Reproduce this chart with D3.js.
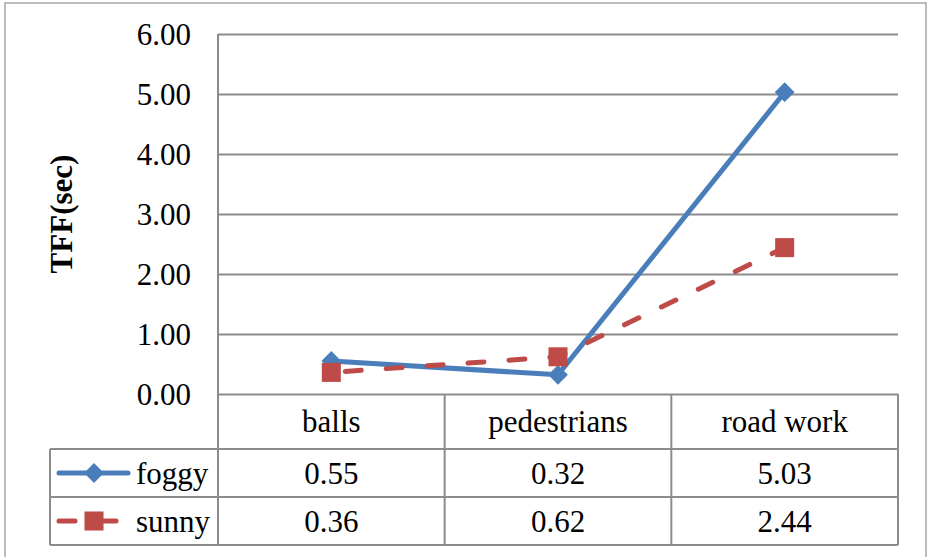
<!DOCTYPE html>
<html lang="en">
<head>
  <meta charset="UTF-8">
  <title>TFF line chart with data table</title>
  <script src="https://d3js.org/d3.v7.min.js"></script>
  <style>
    body { margin: 0; background: #fff; }
    text { font-family: "Liberation Serif", "Times New Roman", serif; fill: #000; }
    .grid line { stroke: #8c8c8c; stroke-width: 2; }
    .grid path { display: none; }
    .rule { stroke: #8c8c8c; stroke-width: 2; }
  </style>
</head>
<body>
  <div id="chart"></div>
  <script>
  // data
  var categories = ["balls", "pedestrians", "road work"];
  var seriesNames = ["foggy", "sunny"];
  var foggy = [0.55, 0.32, 5.03];
  var sunny = [0.36, 0.62, 2.44];
  var yTicks = [0, 1, 2, 3, 4, 5, 6];

  var w = 927, h = 557;
  var plotLeft = 218, plotRight = 898, plotTop = 34, plotBottom = 394;
  var rowTop = 449, rowMid = 497, rowBot = 545, legendLeft = 50;

  var blue = "#4a7ebb", red = "#be4b48";
  var fs = 31;

  var svg = d3.select("#chart").append("svg")
    .attr("width", w)
    .attr("height", h);

  // outer frame (bottom edge falls off the picture)
  svg.append("rect")
    .attr("x", 5).attr("y", 3)
    .attr("width", w - 6).attr("height", h + 20)
    .attr("fill", "none")
    .attr("stroke", "#a6a6a6")
    .attr("stroke-width", 1.5);

  var x = d3.scalePoint()
    .domain(categories)
    .range([plotLeft, plotRight])
    .padding(0.5);

  var y = d3.scaleLinear()
    .domain([0, 6])
    .range([plotBottom, plotTop]);

  var step = x.step();

  // gridlines + tick labels
  var yAxis = svg.append("g")
    .attr("class", "grid")
    .attr("transform", "translate(" + plotLeft + ",0)")
    .call(d3.axisLeft(y)
      .tickValues(yTicks)
      .tickSize(-(plotRight - plotLeft))
      .tickPadding(27)
      .tickFormat(d3.format(".2f")));
  yAxis.selectAll(".tick line").attr("x2", plotRight - plotLeft);
  yAxis.selectAll("text")
    .style("font-size", fs + "px")
    .attr("dy", "0.35em");

  // axis title
  svg.append("text")
    .attr("transform", "translate(72," + ((plotTop + plotBottom) / 2) + ") rotate(-90)")
    .attr("text-anchor", "middle")
    .style("font-weight", "bold")
    .style("font-size", "31px")
    .text("TFF(sec)");

  // table frame
  var rules = svg.append("g");
  rules.append("line").attr("class", "rule")
    .attr("x1", plotLeft).attr("x2", plotLeft).attr("y1", plotTop).attr("y2", rowBot);
  rules.append("line").attr("class", "rule")
    .attr("x1", plotRight).attr("x2", plotRight).attr("y1", plotBottom).attr("y2", rowBot);
  rules.append("line").attr("class", "rule")
    .attr("x1", legendLeft).attr("x2", legendLeft).attr("y1", rowTop).attr("y2", rowBot);
  categories.slice(1).forEach(function(c) {
    rules.append("line").attr("class", "rule")
      .attr("x1", x(c) - step / 2).attr("x2", x(c) - step / 2)
      .attr("y1", plotBottom).attr("y2", rowBot);
  });
  [rowTop, rowMid, rowBot].forEach(function(yy) {
    rules.append("line").attr("class", "rule")
      .attr("x1", legendLeft).attr("x2", plotRight).attr("y1", yy).attr("y2", yy);
  });

  // category labels
  svg.append("g").selectAll("text")
    .data(categories)
    .enter().append("text")
    .attr("x", d => x(d))
    .attr("y", (plotBottom + rowTop) / 2)
    .attr("dy", "0.35em")
    .attr("text-anchor", "middle")
    .style("font-size", fs + "px")
    .text(d => d);

  // value cells
  var rows = [foggy, sunny];
  var rowCenters = [(rowTop + rowMid) / 2, (rowMid + rowBot) / 2];
  rows.forEach(function(vals, r) {
    svg.append("g").selectAll("text")
      .data(vals)
      .enter().append("text")
      .attr("x", (d, i) => x(categories[i]))
      .attr("y", rowCenters[r])
      .attr("dy", "0.35em")
      .attr("text-anchor", "middle")
      .style("font-size", fs + "px")
      .text(d => d3.format(".2f")(d));
  });

  // lines
  var line = d3.line()
    .x((d, i) => x(categories[i]))
    .y(d => y(d));

  svg.append("path")
    .datum(foggy)
    .attr("d", line)
    .attr("fill", "none")
    .attr("stroke", blue)
    .attr("stroke-width", 5)
    .attr("stroke-linejoin", "round");

  svg.append("g").selectAll("rect")
    .data(foggy)
    .enter().append("rect")
    .attr("x", -7).attr("y", -7)
    .attr("width", 14).attr("height", 14)
    .attr("transform", (d, i) => "translate(" + x(categories[i]) + "," + y(d) + ") rotate(45)")
    .attr("fill", blue);

  svg.append("path")
    .datum(sunny)
    .attr("d", line)
    .attr("fill", "none")
    .attr("stroke", red)
    .attr("stroke-width", 5)
    .attr("stroke-dasharray", "16,25")
    .attr("stroke-dashoffset", -14)
    .attr("stroke-linecap", "round");

  svg.append("g").selectAll("rect")
    .data(sunny)
    .enter().append("rect")
    .attr("x", (d, i) => x(categories[i]) - 9.5)
    .attr("y", d => y(d) - 9.5)
    .attr("width", 19).attr("height", 19)
    .attr("fill", red);

  // legend keys in the table
  var ky = rowCenters;
  var lg = svg.append("g");
  lg.append("line")
    .attr("x1", 59).attr("x2", 128).attr("y1", ky[0]).attr("y2", ky[0])
    .attr("stroke", blue).attr("stroke-width", 5).attr("stroke-linecap", "round");
  lg.append("rect")
    .attr("x", -7).attr("y", -7).attr("width", 14).attr("height", 14)
    .attr("transform", "translate(94," + ky[0] + ") rotate(45)")
    .attr("fill", blue);
  lg.append("line")
    .attr("x1", 59).attr("x2", 119).attr("y1", ky[1]).attr("y2", ky[1])
    .attr("stroke", red).attr("stroke-width", 5).attr("stroke-linecap", "round")
    .attr("stroke-dasharray", "16,25");
  lg.append("rect")
    .attr("x", 84.5).attr("y", ky[1] - 9.5).attr("width", 19).attr("height", 19)
    .attr("fill", red);

  seriesNames.forEach(function(n, r) {
    lg.append("text")
      .attr("x", 136)
      .attr("y", ky[r])
      .attr("dy", "0.35em")
      .style("font-size", fs + "px")
      .text(n);
  });
  </script>
</body>
</html>
